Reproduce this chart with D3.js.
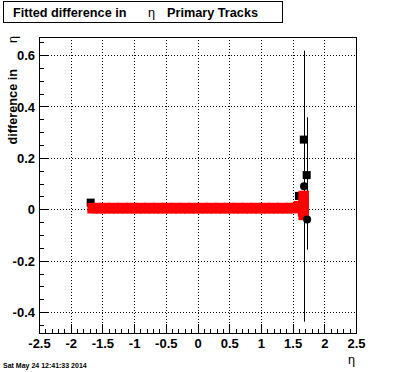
<!DOCTYPE html>
<html>
<head>
<meta charset="utf-8">
<script src="https://cdn.jsdelivr.net/npm/d3@7"></script>
<style>
  html, body { margin: 0; padding: 0; background: #fff; }
  svg { display: block; }
  text { font-family: "Liberation Sans", Arial, Helvetica, sans-serif; }
</style>
</head>
<body>
<svg id="chart" width="396" height="372"></svg>
<script>
// ---------- data ----------
const xDomain = [-2.5, 2.5];
const yDomain = [-0.481, 0.67];
const xTickValues = [-2.5, -2, -1.5, -1, -0.5, 0, 0.5, 1, 1.5, 2, 2.5];
const xTickLabels = ["-2.5", "-2", "-1.5", "-1", "-0.5", "0", "0.5", "1", "1.5", "2", "2.5"];
const yTickValues = [-0.4, -0.2, 0, 0.2, 0.4, 0.6];
const yTickLabels = ["-0.4", "-0.2", "0", "0.2", "0.4", "0.6"];

// black squares (with error bars)
const sqX   = [-1.685, 1.60, 1.677, 1.722];
const sqY   = [0.026, 0.052, 0.271, 0.133];
const sqErr = [0.0, 0.0, 0.0, 0.225];

// red squares (fitted)
const redX = [-1.655, -1.6, -1.53, -1.46, -1.39, -1.32, -1.25, -1.18, -1.11, -1.04, -0.97, -0.9, -0.83, -0.76,
              -0.69, -0.62, -0.55, -0.48, -0.41, -0.34, -0.27, -0.2, -0.13, -0.06, 0.01, 0.08, 0.15, 0.22,
              0.29, 0.36, 0.43, 0.5, 0.57, 0.64, 0.71, 0.78, 0.85, 0.92, 0.99, 1.06, 1.13, 1.2, 1.27, 1.34,
              1.41, 1.48, 1.55, 1.6, 1.63, 1.675, 1.675, 1.675, 1.665, 1.675];
const redY = [0.004, 0.005, 0.004, 0.005, 0.004, 0.005, 0.004, 0.005, 0.004, 0.005, 0.004, 0.005, 0.004, 0.005,
              0.004, 0.005, 0.004, 0.005, 0.004, 0.005, 0.004, 0.005, 0.004, 0.005, 0.004, 0.005, 0.004, 0.005,
              0.004, 0.005, 0.004, 0.005, 0.004, 0.005, 0.004, 0.005, 0.004, 0.005, 0.004, 0.005, 0.004, 0.005,
              0.004, 0.005, 0.004, 0.005, 0.005, 0.012, 0.010, 0.052, 0.030, 0.010, -0.008, -0.022];

// black circles (with error bars)
const circX   = [1.68, 1.729];
const circY   = [0.09, -0.04];
const circErr = [0.527, 0.117];

const titleMain = "Fitted difference in";
const titleSym = "\u03b7";
const titleRest = "Primary Tracks";
const yTitle = "difference in";
const axisSym = "\u03b7";
const dateText = "Sat May 24 12:41:33 2014";

// ---------- drawing ----------
const svg = d3.select("#chart");
const L = 39, R = 356, T = 37, B = 333;
const x = d3.scaleLinear().domain(xDomain).range([L, R]);
const y = d3.scaleLinear().domain(yDomain).range([B, T]);

const crisp = v => Math.round(v) + 0.5;

// grid (dotted)
const grid = svg.append("g").attr("stroke", "#000").attr("stroke-width", 1).attr("stroke-dasharray", "1,2");
grid.selectAll("line.gx").data(xTickValues.slice(1, -1)).join("line")
  .attr("x1", d => crisp(x(d))).attr("x2", d => crisp(x(d)))
  .attr("y1", T).attr("y2", B);
grid.selectAll("line.gy").data(yTickValues).join("line")
  .attr("y1", d => crisp(y(d))).attr("y2", d => crisp(y(d)))
  .attr("x1", L).attr("x2", R);

// axes using d3 axis generators
const xMinor = d3.range(-25, 26).map(v => v / 10);
const yMinor = d3.range(-9, 14).map(v => v / 20);

const xAxisMinor = d3.axisTop(x).tickValues(xMinor).tickSize(4.5).tickFormat("");
const xAxisMajor = d3.axisTop(x).tickValues(xTickValues).tickSize(9)
  .tickFormat((d, i) => xTickLabels[i]);
const yAxisMinor = d3.axisRight(y).tickValues(yMinor).tickSize(5).tickFormat("");
const yAxisMajor = d3.axisRight(y).tickValues(yTickValues).tickSize(10)
  .tickFormat((d, i) => yTickLabels[i]);

function styleAxis(g) {
  g.select(".domain").remove();
  g.selectAll(".tick line").attr("stroke", "#000").attr("shape-rendering", "crispEdges");
}

svg.append("g").attr("transform", `translate(0,${B})`).call(xAxisMinor).call(styleAxis);
const gxM = svg.append("g").attr("transform", `translate(0,${B})`).call(xAxisMajor).call(styleAxis);
gxM.selectAll(".tick text")
  .attr("y", 14.5).attr("dy", 0)
  .style("font-size", "13px").style("font-weight", "bold").attr("fill", "#000");

svg.append("g").attr("transform", `translate(${L},0)`).call(yAxisMinor).call(styleAxis);
const gyM = svg.append("g").attr("transform", `translate(${L},0)`).call(yAxisMajor).call(styleAxis);
gyM.selectAll(".tick text")
  .attr("x", -4).attr("text-anchor", "end").attr("dy", "0.36em")
  .style("font-size", "13px").style("font-weight", "bold").attr("fill", "#000");

// frame
svg.append("rect").attr("x", L + 0.5).attr("y", T + 0.5)
  .attr("width", R - L).attr("height", B - T)
  .attr("fill", "none").attr("stroke", "#000").attr("stroke-width", 1);

const plot = svg.append("g");

// error bars
const sqData = sqX.map((v, i) => ({ x: v, y: sqY[i], e: sqErr[i] }));
plot.selectAll("line.esq").data(sqData.filter(d => d.e > 0)).join("line")
  .attr("x1", d => crisp(x(d.x))).attr("x2", d => crisp(x(d.x)))
  .attr("y1", d => y(d.y + d.e)).attr("y2", d => y(d.y - d.e))
  .attr("stroke", "#000").attr("stroke-width", 1);

const circData = circX.map((v, i) => ({ x: v, y: circY[i], e: circErr[i] }));
plot.selectAll("line.ec").data(circData).join("line")
  .attr("x1", d => crisp(x(d.x))).attr("x2", d => crisp(x(d.x)))
  .attr("y1", d => y(d.y + d.e)).attr("y2", d => y(d.y - d.e))
  .attr("stroke", "#000").attr("stroke-width", 1);

// black squares
const sqS = 8;
plot.selectAll("rect.sq").data(sqData).join("rect")
  .attr("x", d => x(d.x) - sqS / 2).attr("y", d => y(d.y) - sqS / 2)
  .attr("width", sqS).attr("height", sqS).attr("fill", "#000");

// red squares
const redData = redX.map((v, i) => ({ x: v, y: redY[i] }));
const rS = 10.5;
plot.selectAll("rect.red").data(redData).join("rect")
  .attr("x", d => x(d.x) - rS / 2).attr("y", d => y(d.y) - rS / 2)
  .attr("width", rS).attr("height", rS).attr("fill", "#ff0000");

// black circles
plot.selectAll("circle.c").data(circData).join("circle")
  .attr("cx", d => x(d.x)).attr("cy", d => y(d.y)).attr("r", 4).attr("fill", "#000");

// title box
svg.append("rect").attr("x", 3.5).attr("y", 1.5).attr("width", 279).attr("height", 21)
  .attr("fill", "#fff").attr("stroke", "#000").attr("stroke-width", 1);
svg.append("text").attr("x", 13).attr("y", 16.5)
  .style("font-size", "12.7px").style("font-weight", "bold").text(titleMain);
svg.append("text").attr("x", 148).attr("y", 16.5)
  .style("font-size", "12.7px").text(titleSym);
svg.append("text").attr("x", 167).attr("y", 16.5)
  .style("font-size", "12.7px").style("font-weight", "bold").text(titleRest);

// y title
svg.append("text").attr("transform", "translate(17,69) rotate(-90)")
  .attr("text-anchor", "end")
  .style("font-size", "12.7px").style("font-weight", "bold").text(yTitle);
svg.append("text").attr("transform", "translate(17,36) rotate(-90)")
  .attr("text-anchor", "end")
  .style("font-size", "12.7px").text(axisSym);

// x title
svg.append("text").attr("x", 355).attr("y", 364)
  .attr("text-anchor", "end")
  .style("font-size", "12.7px").text(axisSym);

// date
svg.append("text").attr("x", 3).attr("y", 368)
  .style("font-size", "7px").style("font-weight", "bold").text(dateText);
</script>
</body>
</html>
